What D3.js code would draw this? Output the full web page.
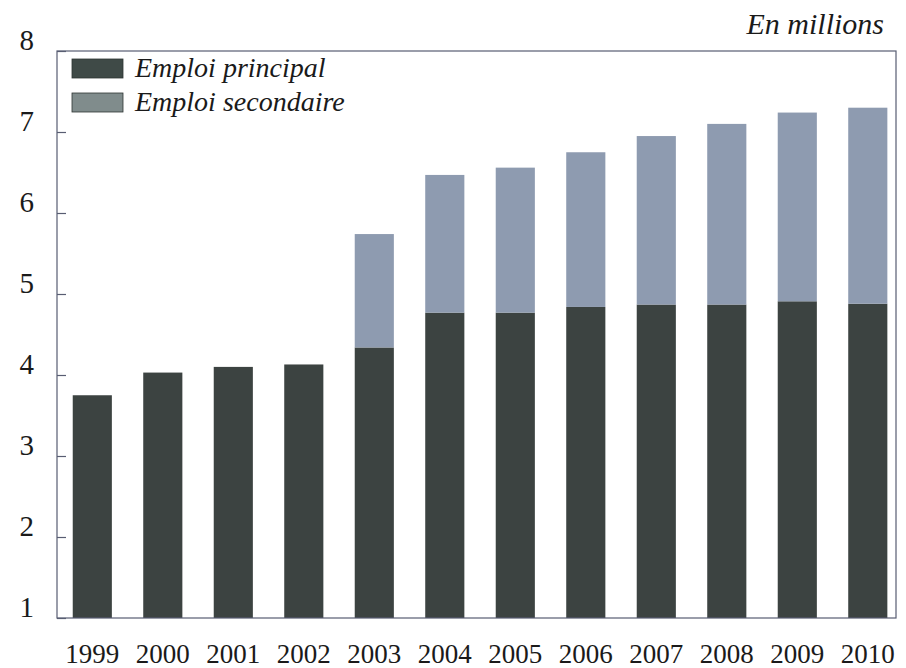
<!DOCTYPE html>
<html>
<head>
<meta charset="utf-8">
<script src="https://cdn.jsdelivr.net/npm/d3@7/dist/d3.min.js"></script>
<style>
  html, body { margin: 0; padding: 0; background: #ffffff; }
  svg { display: block; }
</style>
</head>
<body>
<svg id="chart" width="906" height="668"></svg>
<script>
const years = ["1999","2000","2001","2002","2003","2004","2005","2006","2007","2008","2009","2010"];
const emploiPrincipal = [3.75, 4.03, 4.10, 4.13, 4.34, 4.77, 4.77, 4.84, 4.87, 4.87, 4.91, 4.88];
const emploiSecondaire = [0, 0, 0, 0, 1.40, 1.70, 1.79, 1.91, 2.08, 2.23, 2.33, 2.42];
const yTicks = [1, 2, 3, 4, 5, 6, 7, 8];
const seriesNames = ["Emploi principal", "Emploi secondaire"];
const colors = ["#3c4341", "#8e9bb0"];
const legendColors = ["#3f4a47", "#808c8c"];
const serif = "'Liberation Serif', 'Times New Roman', serif";

const svg = d3.select("#chart");
const plotLeft = 57, plotRight = 896, plotTop = 51, plotBottom = 618;

const x = d3.scaleBand().domain(years).range([plotLeft, plotRight + 1])
  .paddingInner(0.445).paddingOuter(0.18).align(0.62);
const y = d3.scaleLinear().domain([1, 8]).range([plotBottom, plotTop]);

const rows = years.map((yr, i) => ({ year: yr, p: emploiPrincipal[i], s: emploiSecondaire[i] }));
const stack = d3.stack().keys(["p", "s"]);
const layers = stack(rows);

svg.append("g").selectAll("g").data(layers).join("g")
  .attr("fill", (d, i) => colors[i])
  .selectAll("rect").data(d => d.filter(v => v[1] > v[0])).join("rect")
  .attr("x", d => x(d.data.year))
  .attr("width", x.bandwidth())
  .attr("y", d => y(d[1]))
  .attr("height", d => y(Math.max(d[0], 1)) - y(d[1]));

// frame
svg.append("rect")
  .attr("x", plotLeft).attr("y", plotTop)
  .attr("width", plotRight - plotLeft).attr("height", plotBottom - plotTop)
  .attr("fill", "none").attr("stroke", "#585d72").attr("stroke-width", 1.2);

// y axis
const yAxis = svg.append("g").attr("transform", `translate(${plotLeft},0)`)
  .call(d3.axisLeft(y).tickValues(yTicks).tickSize(-9).tickPadding(23).tickFormat(d3.format("d")));
yAxis.select(".domain").remove();
yAxis.selectAll("line").attr("stroke", "#585d72").attr("stroke-width", 1.2);
yAxis.selectAll("text")
  .attr("font-family", serif)
  .attr("font-size", 29).attr("fill", "#1a1a1a")
  .attr("dy", 0).attr("y", -2);

// x axis
const xAxis = svg.append("g").attr("transform", `translate(0,${plotBottom})`)
  .call(d3.axisBottom(x).tickSize(0).tickPadding(0));
xAxis.select(".domain").remove();
xAxis.selectAll("text")
  .attr("font-family", serif)
  .attr("font-size", 27).attr("fill", "#1a1a1a")
  .attr("dy", 0).attr("y", 45);

// unit label
svg.append("text")
  .attr("x", 884).attr("y", 34)
  .attr("text-anchor", "end")
  .attr("font-family", serif)
  .attr("font-style", "italic").attr("font-size", 30).attr("fill", "#1a1a1a")
  .text("En millions");

// legend
const legend = svg.append("g");
seriesNames.forEach((name, i) => {
  legend.append("rect")
    .attr("x", 72).attr("y", 59 + i * 34)
    .attr("width", 51).attr("height", 19)
    .attr("fill", legendColors[i]).attr("stroke", "#2e3533").attr("stroke-width", 0.8);
  legend.append("text")
    .attr("x", 135).attr("y", 77 + i * 34)
    .attr("font-family", serif)
    .attr("font-style", "italic").attr("font-size", 28).attr("fill", "#1a1a1a")
    .text(name);
});
</script>
</body>
</html>
